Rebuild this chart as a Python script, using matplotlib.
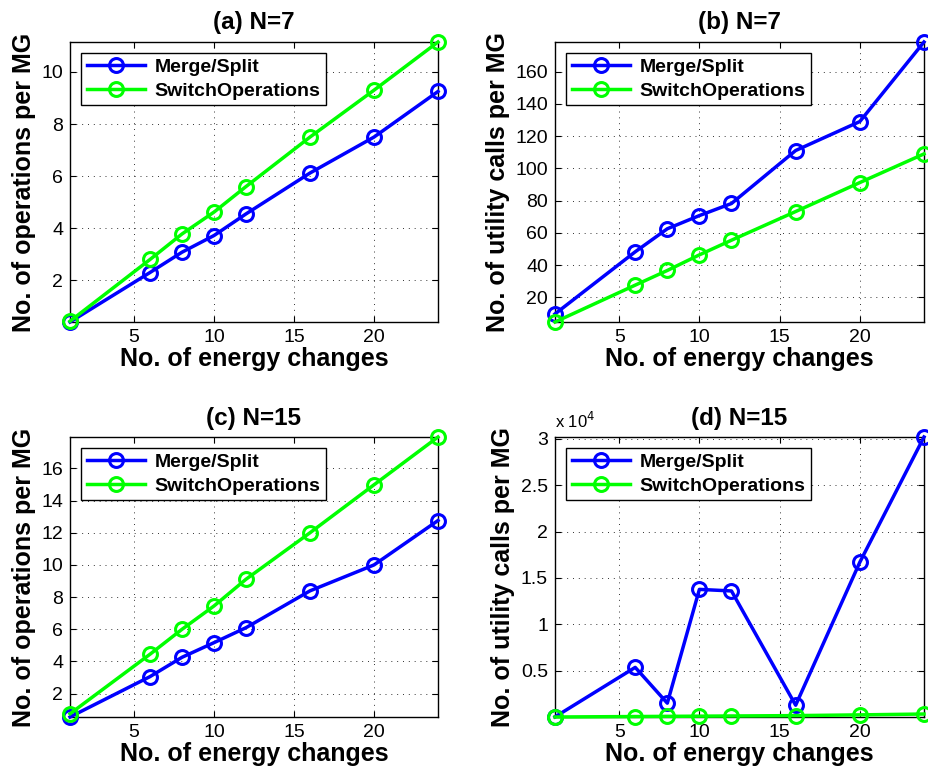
import matplotlib
matplotlib.use('Agg')
import matplotlib.pyplot as plt
from matplotlib.ticker import FuncFormatter

plt.rcParams['font.family'] = ['Liberation Sans', 'DejaVu Sans']

# energy changes (x axis)
changes = [1, 6, 8, 10, 12, 16, 20, 24]

# (a) N=7 operations per MG
ops7_merge = [0.40, 2.30, 3.08, 3.72, 4.55, 6.12, 7.50, 9.25]
ops7_switch = [0.43, 2.80, 3.78, 4.62, 5.60, 7.50, 9.30, 11.15]

# (b) N=7 utility calls per MG
calls7_merge = [9.6, 48.2, 62.5, 70.7, 78.2, 111.1, 129.1, 178.5]
calls7_switch = [4.6, 27.5, 36.6, 46.3, 55.4, 73.2, 91.2, 109.0]

# (c) N=15 operations per MG
ops15_merge = [0.55, 3.06, 4.26, 5.17, 6.10, 8.39, 10.0, 12.76]
ops15_switch = [0.75, 4.45, 6.00, 7.45, 9.11, 12.0, 14.98, 17.95]

# (d) N=15 utility calls per MG
calls15_merge = [20, 5360, 1500, 13770, 13600, 1280, 16700, 30200]
calls15_switch = [10, 60, 80, 100, 120, 160, 240, 330]

titles = ['(a) N=7', '(b) N=7', '(c) N=15', '(d) N=15']
ylabels = ['No. of operations per MG', 'No. of utility calls per MG',
           'No. of operations per MG', 'No. of utility calls per MG']
series = [(ops7_merge, ops7_switch), (calls7_merge, calls7_switch),
          (ops15_merge, ops15_switch), (calls15_merge, calls15_switch)]
yticks = [[2, 4, 6, 8, 10],
          [20, 40, 60, 80, 100, 120, 140, 160],
          [2, 4, 6, 8, 10, 12, 14, 16],
          [5000, 10000, 15000, 20000, 25000, 30000]]

W, H = 929, 776
fig = plt.figure(figsize=(W / 100, H / 100), dpi=100)

# axes boxes in pixels: left, top, right, bottom
boxes = [(70, 42, 438, 322), (555, 42, 924, 322),
         (70, 437, 438, 717), (555, 437, 924, 717)]

for i in range(4):
    l, t, r, b = boxes[i]
    ax = fig.add_axes([l / W, 1 - b / H, (r - l) / W, (b - t) / H])
    m, s = series[i]
    ax.plot(changes, m, color=(0, 0, 1), lw=2.5, marker='o', ms=10,
            mfc='none', mew=2.2, label='Merge/Split', clip_on=False, zorder=3)
    ax.plot(changes, s, color=(0, 1, 0), lw=2.5, marker='o', ms=10,
            mfc='none', mew=2.2, label='SwitchOperations', clip_on=False, zorder=3)
    ax.set_xlim(1, 24)
    lo = min(min(m), min(s))
    hi = max(max(m), max(s))
    ax.set_ylim(lo, hi)
    ax.set_xticks([5, 10, 15, 20])
    ax.set_yticks(yticks[i])
    if i == 3:
        ax.yaxis.set_major_formatter(FuncFormatter(lambda v, p: '%g' % (v / 1e4)))
        ax.text(0.0, 1.02, r'x 10$^4$', transform=ax.transAxes, fontsize=12,
                ha='left', va='bottom')
    ax.grid(True, color='black', linestyle=(0, (1, 5)), linewidth=0.7, alpha=0.8)
    ax.tick_params(direction='in', top=True, right=True, labelsize=14,
                   length=4, width=0.8, pad=5)
    for sp in ax.spines.values():
        sp.set_linewidth(1.0)
    ax.set_title(titles[i], fontsize=17.5, fontweight='bold', pad=9)
    ax.set_xlabel('No. of energy changes', fontsize=18, fontweight='bold', labelpad=1)
    ax.set_ylabel(ylabels[i], fontsize=18, fontweight='bold', labelpad=4)
    leg = ax.legend(loc='upper left', prop={'weight': 'bold', 'size': 14},
                    fancybox=False, edgecolor='black', framealpha=1,
                    handlelength=3.0, borderaxespad=0.55, labelspacing=0.3,
                    borderpad=0.3, handletextpad=0.5)
    leg.get_frame().set_linewidth(1.0)

plt.savefig('out.png', dpi=100)
